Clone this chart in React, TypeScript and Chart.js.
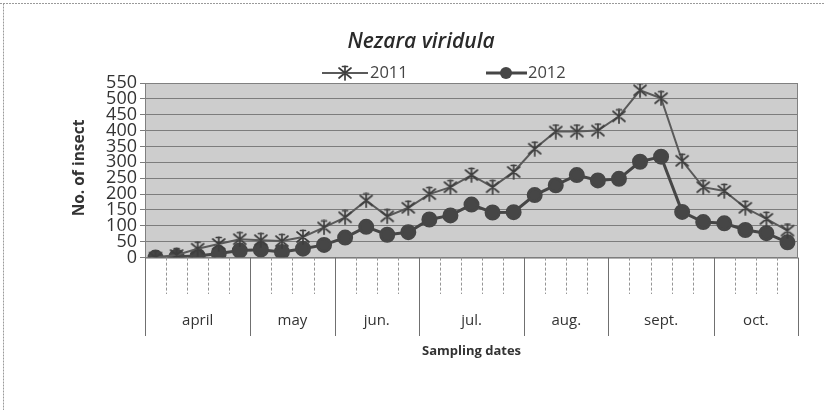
import React, { useEffect, useRef } from "react";
import { Chart, registerables } from "chart.js";
Chart.register(...registerables);

const chartTitle = "Nezara viridula";
const yAxisTitle = "No. of insect";
const xAxisTitle = "Sampling dates";
const months = ["april", "may", "jun.", "jul.", "aug.", "sept.", "oct."];
const samplesPerMonth = [5, 4, 4, 5, 4, 5, 4];
const seriesNames = ["2011", "2012"];
const series2011 = [0, 8, 28, 43, 58, 55, 52, 65, 95, 127, 180, 130, 157, 200, 222, 260, 222, 270, 343, 397, 397, 400, 445, 527, 502, 305, 222, 210, 157, 122, 85];
const series2012 = [0, 3, 5, 13, 22, 25, 18, 28, 40, 63, 97, 72, 80, 120, 133, 167, 142, 143, 197, 228, 260, 243, 248, 302, 318, 144, 112, 108, 87, 77, 48];
const yMin = 0;
const yMax = 550;
const yStep = 50;

const labels: string[] = [];
months.forEach((m, mi) => {
  for (let k = 0; k < samplesPerMonth[mi]; k++) labels.push(`${m} ${k + 1}`);
});

const C2011 = "#5a5a5a";
const C2012 = "#464646";

function makeStar(size: number, color: string): HTMLCanvasElement {
  const c = document.createElement("canvas");
  c.width = size;
  c.height = size;
  const g = c.getContext("2d")!;
  g.strokeStyle = color;
  g.lineWidth = 1.7;
  g.lineCap = "round";
  const a = 2;
  const b = size - 2;
  const m = size / 2;
  g.beginPath();
  g.moveTo(a, a + 1); g.lineTo(b, b - 1);
  g.moveTo(b, a + 1); g.lineTo(a, b - 1);
  g.moveTo(m, a - 1); g.lineTo(m, b + 1);
  g.moveTo(m - 2.5, a - 0.5); g.lineTo(m + 2.5, a - 0.5);
  g.stroke();
  return c;
}

export default function App() {
  const ref = useRef<HTMLCanvasElement | null>(null);
  useEffect(() => {
    const canvas = ref.current!;
    const star = makeStar(16, "#3e3e3e");
    const deco = {
      id: "deco",
      beforeDraw(chart: any) {
        const { ctx, chartArea: a } = chart;
        ctx.save();
        ctx.fillStyle = "#fff";
        ctx.fillRect(0, 0, chart.width, chart.height);
        ctx.fillStyle = "#cdcdcd";
        ctx.fillRect(a.left, a.top, a.right - a.left, a.bottom - a.top);
        ctx.restore();
      },
      afterDraw(chart: any) {
        const { ctx, chartArea: a } = chart;
        ctx.save();
        // outer faint frame
        ctx.strokeStyle = "#9a9a9a";
        ctx.lineWidth = 1;
        ctx.setLineDash([2, 1]);
        ctx.beginPath();
        ctx.moveTo(0, 3.5); ctx.lineTo(chart.width, 3.5);
        ctx.moveTo(3.5, 3.5); ctx.lineTo(3.5, chart.height);
        ctx.stroke();
        ctx.setLineDash([]);
        // plot border
        ctx.strokeStyle = "#808080";
        ctx.strokeRect(a.left + 0.5, a.top + 0.5, a.right - a.left - 1, a.bottom - a.top);
        // category ticks under axis
        const n = labels.length;
        const w = (a.right - a.left) / n;
        const monthEdges = new Set<number>();
        let acc = 0;
        monthEdges.add(0);
        samplesPerMonth.forEach((c) => { acc += c; monthEdges.add(acc); });
        for (let i = 0; i <= n; i++) {
          const x = Math.round(a.left + i * w) + 0.5;
          ctx.beginPath();
          if (monthEdges.has(i)) {
            ctx.strokeStyle = "#707070";
            ctx.setLineDash([]);
            ctx.moveTo(x, a.bottom); ctx.lineTo(x, 336);
          } else {
            ctx.strokeStyle = "#959595";
            ctx.setLineDash([3, 2]);
            ctx.moveTo(x, a.bottom); ctx.lineTo(x, 294);
          }
          ctx.stroke();
        }
        ctx.setLineDash([]);
        // month labels
        ctx.fillStyle = "#333";
        ctx.font = "15px 'Open Sans'";
        ctx.textAlign = "center";
        ctx.textBaseline = "middle";
        acc = 0;
        months.forEach((m, mi) => {
          const x0 = a.left + acc * w;
          acc += samplesPerMonth[mi];
          const x1 = a.left + acc * w;
          ctx.fillText(m, (x0 + x1) / 2, 321);
        });
        // x title
        ctx.font = "bold 13px 'Open Sans'";
        ctx.fillText(xAxisTitle, (a.left + a.right) / 2, 351);
        // title
        ctx.font = "italic 600 21px 'Open Sans'";
        ctx.fillStyle = "#2a2a2a";
        ctx.fillText(chartTitle, 421, 42);
        // y title
        ctx.save();
        ctx.translate(80, 168);
        ctx.rotate(-Math.PI / 2);
        ctx.font = "bold 15.5px 'Open Sans'";
        ctx.fillStyle = "#333";
        ctx.fillText(yAxisTitle, 0, 0);
        ctx.restore();
        // legend
        const ly = 73;
        ctx.lineWidth = 2;
        ctx.strokeStyle = C2011;
        ctx.beginPath(); ctx.moveTo(322, ly); ctx.lineTo(368, ly); ctx.stroke();
        ctx.drawImage(star, 345 - 8, ly - 8);
        ctx.lineWidth = 3;
        ctx.strokeStyle = C2012;
        ctx.beginPath(); ctx.moveTo(486, ly); ctx.lineTo(527, ly); ctx.stroke();
        ctx.fillStyle = C2012;
        ctx.beginPath(); ctx.arc(506, ly, 6, 0, Math.PI * 2); ctx.fill();
        ctx.font = "16.5px 'Open Sans'";
        ctx.fillStyle = "#444";
        ctx.textAlign = "left";
        ctx.fillText(seriesNames[0], 370, ly);
        ctx.fillText(seriesNames[1], 528, ly);
        ctx.restore();
      },
    };
    const chart = new Chart(canvas, {
      type: "line",
      data: {
        labels,
        datasets: [
          {
            label: seriesNames[0],
            data: series2011,
            borderColor: C2011,
            borderWidth: 2,
            pointStyle: star as any,
            pointRadius: 8,
            tension: 0,
          },
          {
            label: seriesNames[1],
            data: series2012,
            borderColor: C2012,
            backgroundColor: C2012,
            borderWidth: 3,
            pointStyle: "circle",
            pointRadius: 6.5,
            pointBackgroundColor: C2012,
            pointBorderColor: C2012,
            tension: 0,
          },
        ],
      },
      options: {
        responsive: false,
        animation: false,
        layout: { padding: { top: 83, right: 26, bottom: 152.4, left: 0 } },
        plugins: { legend: { display: false }, title: { display: false }, tooltip: { enabled: false } },
        scales: {
          x: { type: "category", offset: true, display: false },
          y: {
            min: yMin,
            max: yMax,
            afterFit: (s: any) => { s.width = 145; },
            ticks: { stepSize: yStep, autoSkip: false, color: "#333", font: { family: "'Open Sans'", size: 18 }, padding: 3 },
            grid: { color: "#7c7c7c", tickLength: 5, lineWidth: 1 },
            border: { display: true, color: "#7c7c7c" },
          },
        },
      },
      plugins: [deco],
    });
    return () => chart.destroy();
  }, []);
  return (
    <div style={{ position: "fixed", left: 0, top: 0, width: 824, height: 410, background: "#fff" }}>
      <canvas ref={ref} width={824} height={410} style={{ display: "block" }} />
    </div>
  );
}
